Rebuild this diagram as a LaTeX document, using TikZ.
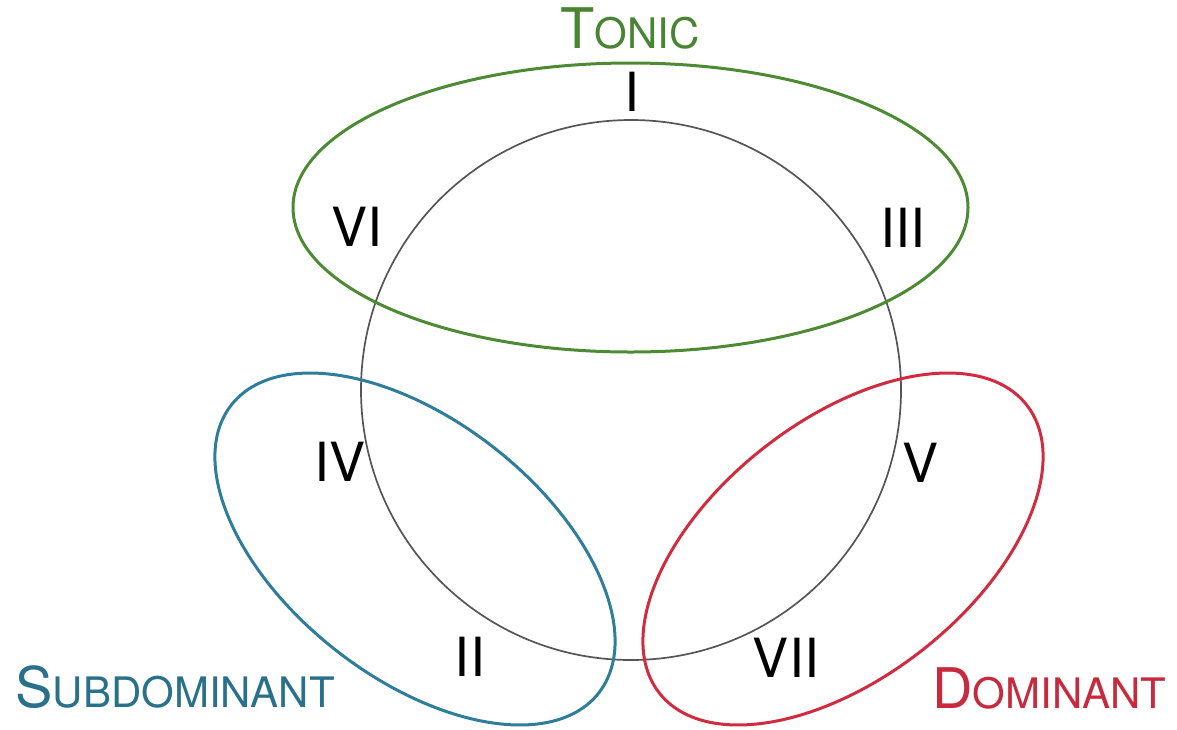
\documentclass[tikz,border=0pt]{standalone}
\usepackage{fontspec}
\setmainfont{TeX Gyre Heros}
\definecolor{tgreen}{HTML}{4C8B34}
\definecolor{sblue}{HTML}{2E7D9A}
\definecolor{dred}{HTML}{D12B40}
\definecolor{ringgray}{HTML}{555555}
\tikzset{
  numeral/.style={inner sep=0pt, font=\fontsize{27}{27}\selectfont, text=black},
  grouplabel/.style={inner sep=0pt, anchor=base},
  ring/.style={draw=ringgray, line width=0.85pt},
  group/.style={line width=1.5pt}
}
\newcommand{\fsc}[2]{{\fontsize{28}{28}\selectfont #1}{\fontsize{21}{21}\selectfont #2}}
\begin{document}
\begin{tikzpicture}[x=0.5pt,y=-0.5pt]
\useasboundingbox (0,0) rectangle (1177,729);
% central circle
\draw[ring] (631,390) circle [radius=270];
% tonic ellipse
\draw[group, draw=tgreen] (630.5,207.5) ellipse [x radius=337.5, y radius=144.5];
% subdominant ellipse
\draw[group, draw=sblue, rotate around={-38.1:(415,549)}] (415,549) ellipse [x radius=233.4, y radius=128.5];
% dominant ellipse
\draw[group, draw=dred, rotate around={38.1:(843,549)}] (843,549) ellipse [x radius=233.4, y radius=128.5];
% numerals
\node[numeral] (n1) at (632,92) {I};
\node[numeral] (n6) at (357,227) {VI};
\node[numeral] (n3) at (903,228) {III};
\node[numeral] (n4) at (340,462) {IV};
\node[numeral] (n5) at (920,463) {V};
\node[numeral] (n2) at (470,657) {II};
\node[numeral] (n7) at (786,658) {VII};
% group labels
\node[grouplabel, text=tgreen!95!black] (ton) at (630,48) {\fsc{T}{ONIC}};
\node[grouplabel, text=sblue!90!black, anchor=base west] (sub) at (15,707) {\fsc{S}{UBDOMINANT}};
\node[grouplabel, text=dred!95!black, anchor=base west] (dom) at (932,708) {\fsc{D}{OMINANT}};
\end{tikzpicture}
\end{document}
